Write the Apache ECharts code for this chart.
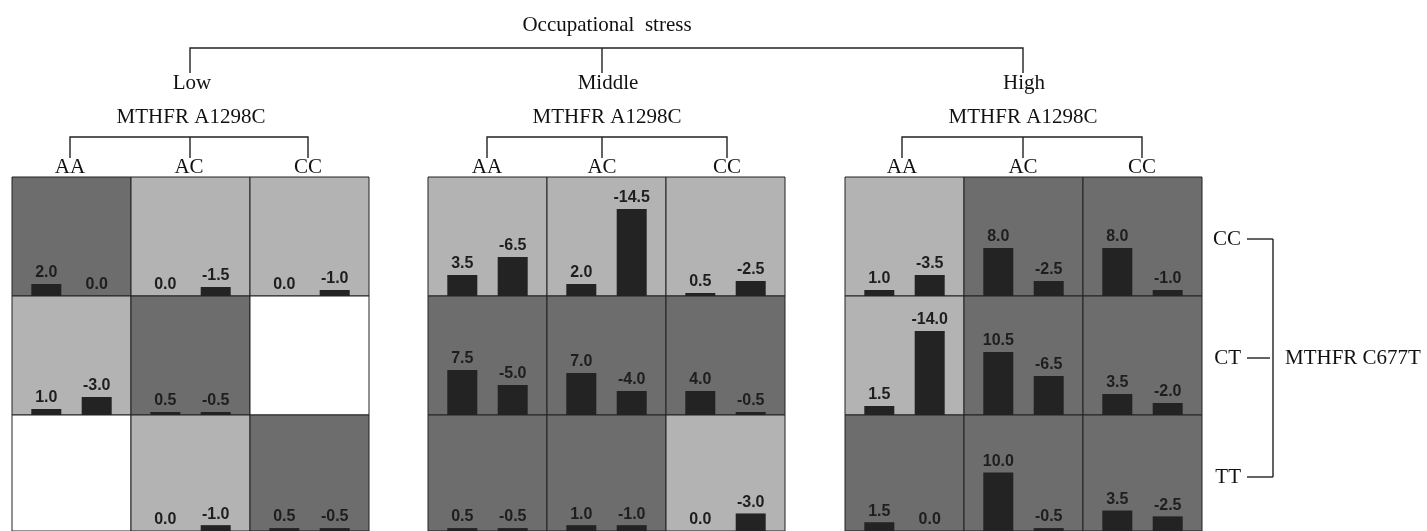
<!DOCTYPE html>
<html><head><meta charset="utf-8">
<script src="https://cdn.jsdelivr.net/npm/echarts@6/dist/echarts.min.js"></script>
<style>html,body{margin:0;padding:0;background:#fff}#c{width:1427px;height:531px}</style>
</head><body><div id="c"></div>
<script>
// ---- data ----
const stressLevels = ['Low', 'Middle', 'High'];
const a1298cGenotypes = ['AA', 'AC', 'CC'];
const c677tGenotypes = ['CC', 'CT', 'TT'];
// each panel: row-major (C677T row x A1298C column); cell = [first bar, second bar], null = empty cell
const lowValues    = [[2.0, 0.0], [0.0, -1.5], [0.0, -1.0], [1.0, -3.0], [0.5, -0.5], null, null, [0.0, -1.0], [0.5, -0.5]];
const middleValues = [[3.5, -6.5], [2.0, -14.5], [0.5, -2.5], [7.5, -5.0], [7.0, -4.0], [4.0, -0.5], [0.5, -0.5], [1.0, -1.0], [0.0, -3.0]];
const highValues   = [[1.0, -3.5], [8.0, -2.5], [8.0, -1.0], [1.5, -14.0], [10.5, -6.5], [3.5, -2.0], [1.5, 0.0], [10.0, -0.5], [3.5, -2.5]];
const lowShades    = ['dark', 'light', 'light', 'light', 'dark', 'none', 'none', 'light', 'dark'];
const middleShades = ['light', 'light', 'light', 'dark', 'dark', 'dark', 'dark', 'dark', 'light'];
const highShades   = ['light', 'dark', 'dark', 'light', 'dark', 'dark', 'dark', 'dark', 'dark'];

// ---- layout / style ----
const panels = [
  {values: lowValues, shades: lowShades, left: 12, headX: [70, 189, 308], midX: 190, titleX: 191},
  {values: middleValues, shades: middleShades, left: 428, headX: [487, 602, 727], midX: 602, titleX: 607},
  {values: highValues, shades: highShades, left: 845, headX: [902, 1023, 1142], midX: 1023, titleX: 1023}
];
const shadeColor = {light: '#b3b3b3', dark: '#6d6d6d', none: '#ffffff'};
const CELL = 119, TOP = 177, YMAX = CELL / 6;
const serif = 'Liberation Serif, Times New Roman, serif';
const ink = '#1e1e1e';

const grid = [], xAxis = [], yAxis = [], series = [];
panels.forEach(p => {
  p.values.forEach((cell, i) => {
    const r = Math.floor(i / 3), c = i % 3;
    const gi = grid.length;
    grid.push({
      left: p.left + c * CELL, top: TOP + r * CELL, width: CELL, height: CELL,
      show: true, backgroundColor: shadeColor[p.shades[i]],
      borderColor: '#222', borderWidth: 1
    });
    xAxis.push({type: 'category', gridIndex: gi, data: ['v'], show: false});
    yAxis.push({type: 'value', gridIndex: gi, min: 0, max: YMAX, show: false});
    [0, 1].forEach(k => {
      series.push({
        type: 'bar', xAxisIndex: gi, yAxisIndex: gi,
        barWidth: 30, barGap: '68%',
        itemStyle: {color: '#232323'},
        label: {
          show: true, position: 'top', distance: 3,
          fontFamily: 'Liberation Sans, Arial, sans-serif', fontSize: 16, fontWeight: 'bold',
          color: ink,
          formatter: q => q.data.signed.toFixed(1)
        },
        data: cell ? [{value: Math.abs(cell[k]), signed: cell[k]}] : []
      });
    });
  });
});

const graphic = [];
function txt(x, y, text, align, size) {
  graphic.push({type: 'text', x, y, silent: true,
    style: {text, fill: '#111', fontFamily: serif, fontSize: size || 21, align: align || 'center', verticalAlign: 'middle'}});
}
function line(points) {
  graphic.push({type: 'polyline', silent: true, shape: {points},
    style: {stroke: '#222', lineWidth: 1.4, fill: null}});
}
// top header
txt(607, 25, 'Occupational  stress');
line([[190, 73], [190, 48], [1023, 48], [1023, 73]]);
line([[602, 48], [602, 73]]);
panels.forEach((p, pi) => {
  txt(p.titleX + 1, 83, stressLevels[pi]);
  txt(p.titleX, 117, 'MTHFR A1298C');
  line([[p.headX[0], 158], [p.headX[0], 137], [p.headX[2], 137], [p.headX[2], 158]]);
  line([[p.midX, 137], [p.midX, 158]]);
  p.headX.forEach((x, ci) => txt(x, 167, a1298cGenotypes[ci]));
});
// right side
const rowY = [239, 358, 477];
c677tGenotypes.forEach((g, ri) => {
  txt(1241, rowY[ri], g, 'right');
  line([[1247, rowY[ri]], [ri === 1 ? 1270 : 1273, rowY[ri]]]);
});
line([[1273, rowY[0]], [1273, rowY[2]]]);
txt(1285, 358, 'MTHFR C677T', 'left');

const chart = echarts.init(document.getElementById('c'), null, {renderer: 'canvas'});
chart.setOption({animation: false, grid, xAxis, yAxis, series, graphic});
</script></body></html>
